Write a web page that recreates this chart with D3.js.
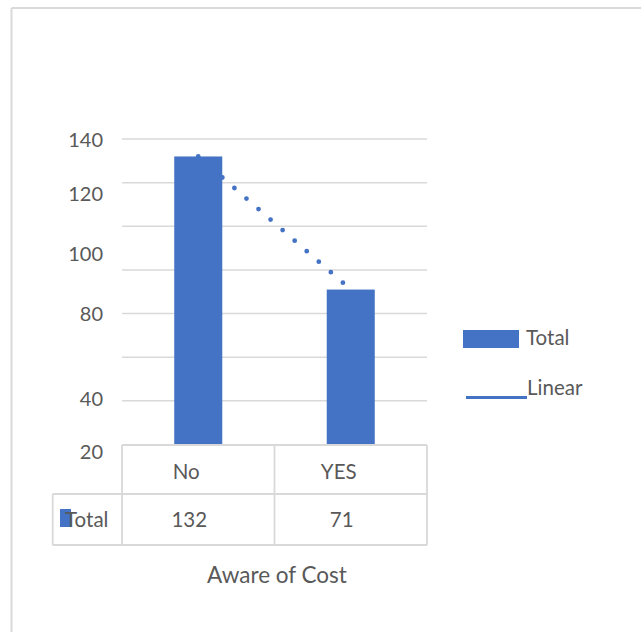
<!DOCTYPE html>
<html>
<head>
<meta charset="utf-8">
<script src="https://cdn.jsdelivr.net/npm/d3@7"></script>
<style>
  html, body { margin: 0; padding: 0; background: #fff; }
  svg text { font-family: Lato, "Open Sans", "Liberation Sans", sans-serif; fill: #595959; }
</style>
</head>
<body>
<svg id="chart" width="641" height="632"></svg>
<script>
// ---- data ----
const categories = ["No", "YES"];
const totals = [132, 71];
const tickValues = [140, 120, 100, 80, 40, 20];
const gridValues = [0, 20, 40, 60, 80, 100, 120, 140];
const seriesName = "Total";
const trendName = "Linear";
const axisTitle = "Aware of Cost";

// ---- layout ----
const svg = d3.select("#chart");
const blue = "#4472C4";
const gridColor = "#d9d9d9";
const plotLeft = 122, plotRight = 427, plotTop = 139, plotBottom = 444.5;
const tableMid = 494, tableBottom = 545, tableLeft = 52.7;

// chart border (top + left only visible)
svg.append("line").attr("x1", 11.5).attr("x2", 641).attr("y1", 8).attr("y2", 8)
  .attr("stroke", gridColor).attr("stroke-width", 2);
svg.append("line").attr("x1", 11.5).attr("x2", 11.5).attr("y1", 8).attr("y2", 632)
  .attr("stroke", gridColor).attr("stroke-width", 2);

const x = d3.scaleBand().domain(categories).range([plotLeft, plotRight]).padding(0);
const y = d3.scaleLinear().domain([0, 140]).range([plotBottom, plotTop]);
const barW = x.bandwidth() * 0.315;

// gridlines
svg.append("g").selectAll("line").data(gridValues.filter(v => v > 0)).join("line")
  .attr("x1", plotLeft).attr("x2", plotRight)
  .attr("y1", d => y(d)).attr("y2", d => y(d))
  .attr("stroke", gridColor).attr("stroke-width", 1.5);

// tick labels (rendered positions in the reference are shifted from their gridlines)
const labelShift = [0.5, 11.3, 27.6, 44.4, 41.9, 51.2];
svg.append("g").selectAll("text").data(tickValues).join("text")
  .attr("x", 103).attr("text-anchor", "end")
  .attr("y", (d, i) => y(d) + labelShift[i])
  .attr("dy", "0.35em")
  .attr("font-size", 20)
  .text(d => d);

// bars
svg.append("g").selectAll("rect").data(totals).join("rect")
  .attr("x", (d, i) => x(categories[i]) + x.bandwidth() / 2 - barW / 2)
  .attr("width", barW)
  .attr("y", d => y(d))
  .attr("height", d => y(0) - y(d))
  .attr("fill", blue);

// linear trendline (through the two points)
const n = totals.length;
const xs = d3.range(n);
const mx = d3.mean(xs), my = d3.mean(totals);
const slope = d3.sum(xs, (xi, i) => (xi - mx) * (totals[i] - my)) / d3.sum(xs, xi => (xi - mx) ** 2);
const icpt = my - slope * mx;
const trend = xs.map(i => [x(categories[i]) + x.bandwidth() / 2, y(icpt + slope * i)]);
svg.append("path")
  .attr("d", d3.line()(trend))
  .attr("fill", "none").attr("stroke", blue)
  .attr("stroke-width", 4.8).attr("stroke-linecap", "round")
  .attr("stroke-dasharray", "0,16");

// data table
const tg = svg.append("g").attr("stroke", gridColor).attr("stroke-width", 1.8);
tg.append("line").attr("x1", plotLeft).attr("x2", plotRight).attr("y1", plotBottom + 0.5).attr("y2", plotBottom + 0.5);
tg.append("line").attr("x1", tableLeft).attr("x2", plotRight).attr("y1", tableMid).attr("y2", tableMid);
tg.append("line").attr("x1", tableLeft).attr("x2", plotRight).attr("y1", tableBottom).attr("y2", tableBottom);
tg.append("line").attr("x1", tableLeft).attr("x2", tableLeft).attr("y1", tableMid).attr("y2", tableBottom);
const vlines = categories.map(c => x(c)).concat([plotRight]);
tg.selectAll(".v").data(vlines).join("line").attr("class", "v")
  .attr("x1", d => d).attr("x2", d => d).attr("y1", plotBottom + 0.5).attr("y2", tableBottom);

svg.append("g").selectAll("text").data(categories).join("text")
  .attr("x", d => x(d) + x.bandwidth() / 2 - 12)
  .attr("y", 479).attr("text-anchor", "middle").attr("font-size", 20.5)
  .text(d => d);
svg.append("g").selectAll("text").data(totals).join("text")
  .attr("x", (d, i) => x(categories[i]) + x.bandwidth() / 2 - 9)
  .attr("y", 527).attr("text-anchor", "middle").attr("font-size", 20.5)
  .text(d => d);
svg.append("rect").attr("x", 60).attr("y", 509).attr("width", 11).attr("height", 18).attr("fill", blue);
svg.append("text").attr("x", 65).attr("y", 527).attr("font-size", 20.5).text(seriesName);

// axis title
svg.append("text").attr("x", 277).attr("y", 583).attr("text-anchor", "middle")
  .attr("font-size", 22.5).text(axisTitle);

// legend
svg.append("rect").attr("x", 463).attr("y", 330).attr("width", 56).attr("height", 18).attr("fill", blue);
svg.append("text").attr("x", 526).attr("y", 345).attr("font-size", 20.5).text(seriesName);
svg.append("line").attr("x1", 466).attr("x2", 527).attr("y1", 397.5).attr("y2", 397.5)
  .attr("stroke", blue).attr("stroke-width", 3);
svg.append("text").attr("x", 527).attr("y", 395).attr("font-size", 20.5).text(trendName);
</script>
</body>
</html>
